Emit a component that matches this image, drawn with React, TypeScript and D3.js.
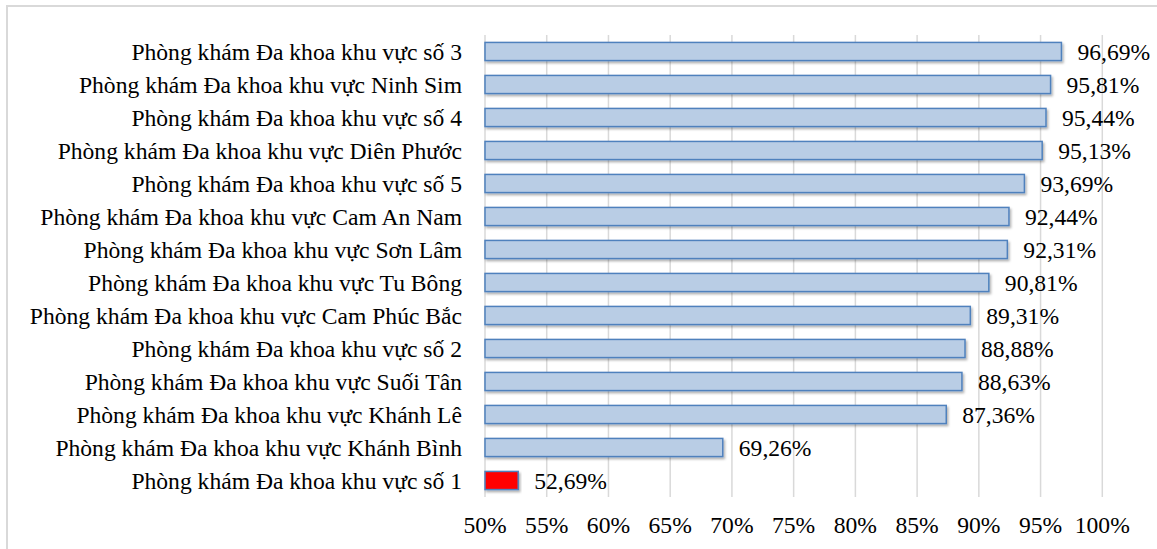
import React from "react";
import * as d3 from "d3";

const categories = [
  "Phòng khám Đa khoa khu vực số 3",
  "Phòng khám Đa khoa khu vực Ninh Sim",
  "Phòng khám Đa khoa khu vực số 4",
  "Phòng khám Đa khoa khu vực Diên Phước",
  "Phòng khám Đa khoa khu vực số 5",
  "Phòng khám Đa khoa khu vực Cam An Nam",
  "Phòng khám Đa khoa khu vực Sơn Lâm",
  "Phòng khám Đa khoa khu vực Tu Bông",
  "Phòng khám Đa khoa khu vực Cam Phúc Bắc",
  "Phòng khám Đa khoa khu vực số 2",
  "Phòng khám Đa khoa khu vực Suối Tân",
  "Phòng khám Đa khoa khu vực Khánh Lê",
  "Phòng khám Đa khoa khu vực Khánh Bình",
  "Phòng khám Đa khoa khu vực số 1",
];
const values = [96.69, 95.81, 95.44, 95.13, 93.69, 92.44, 92.31, 90.81, 89.31, 88.88, 88.63, 87.36, 69.26, 52.69];
const highlighted = ["Phòng khám Đa khoa khu vực số 1"];
const ticks = [50, 55, 60, 65, 70, 75, 80, 85, 90, 95, 100];

const W = 1157;
const H = 549;
const textStyle: React.CSSProperties = { fontFamily: "Liberation Serif, serif", fontSize: "23.6px" };

export default function App() {
  const x = d3.scaleLinear().domain([50, 100]).range([485, 1102.3]);
  const y = d3.scaleBand<string>().domain(categories).range([35, 497]).paddingInner(0.45).paddingOuter(0.225);
  const fmt = (v: number) => v.toFixed(2).replace(".", ",") + "%";
  return (
    <div style={{ position: "fixed", left: 0, top: 0 }}>
      <svg width={W} height={H} style={{ display: "block", background: "#fff" }}>
        <defs>
          <filter id="sh" x="-5%" y="-30%" width="115%" height="180%">
            <feDropShadow dx="1.5" dy="2" stdDeviation="1.2" floodColor="#000" floodOpacity="0.3" />
          </filter>
        </defs>
        <rect x={7} y={6} width={W + 10} height={H + 10} fill="#fff" stroke="#d9d9d9" strokeWidth={2} />
        {ticks.map((t) => (
          <line key={t} x1={x(t)} x2={x(t)} y1={35} y2={497} stroke="#d9d9d9" strokeWidth={1.5} />
        ))}
        {categories.map((c, i) => {
          const v = values[i];
          const hl = highlighted.includes(c);
          const by = y(c)!;
          const bh = y.bandwidth();
          return (
            <g key={c}>
              <rect
                x={x(50)}
                y={by}
                width={x(v) - x(50)}
                height={bh}
                fill={hl ? "#ff0000" : "#b9cde5"}
                stroke="#4f81bd"
                strokeWidth={1.5}
                filter="url(#sh)"
              />
              <text x={462} y={by + bh / 2} textAnchor="end" dominantBaseline="central" style={textStyle} fill="#000">
                {c}
              </text>
              <text x={x(v) + 16} y={by + bh / 2} dominantBaseline="central" style={textStyle} fill="#000">
                {fmt(v)}
              </text>
            </g>
          );
        })}
        {ticks.map((t) => (
          <text key={"l" + t} x={x(t)} y={525} textAnchor="middle" dominantBaseline="central" style={textStyle} fill="#000">
            {t + "%"}
          </text>
        ))}
      </svg>
    </div>
  );
}
